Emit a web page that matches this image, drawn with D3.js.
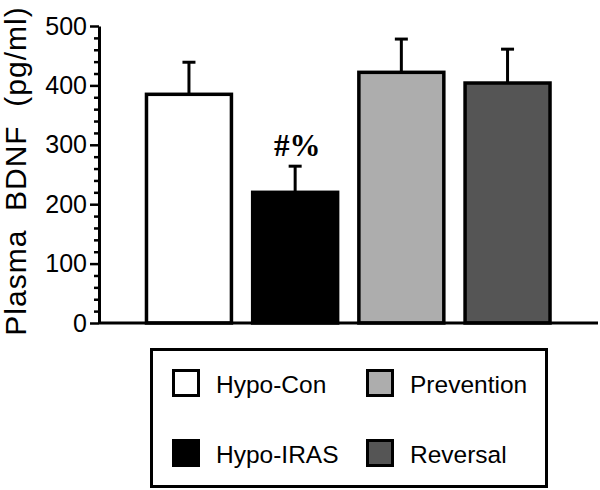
<!DOCTYPE html>
<html>
<head>
<meta charset="utf-8">
<script src="https://cdn.jsdelivr.net/npm/d3@7/dist/d3.min.js"></script>
<style>
  html, body { margin: 0; padding: 0; background: #fff; }
  svg { display: block; }
</style>
</head>
<body>
<svg id="chart" width="600" height="490"></svg>
<script>
const categories = ["Hypo-Con", "Hypo-IRAS", "Prevention", "Reversal"];
const values = [385, 220, 422, 404];
const errors = [54, 44, 56, 57];
const fills = ["#ffffff", "#000000", "#adadad", "#555555"];
const majorTicks = [0, 100, 200, 300, 400, 500];
const minorTicks = [20, 40, 60, 80, 120, 140, 160, 180, 220, 240, 260, 280, 320, 340, 360, 380, 420, 440, 460, 480];
const annotations = ["", "#%", "", ""];
const yTitle = "Plasma  BDNF  (pg/ml)";

const svg = d3.select("#chart");
const font = "Liberation Sans, Arial, Helvetica, sans-serif";

const y = d3.scaleLinear().domain([0, 500]).range([323, 26]);
const x = d3.scaleBand().domain(categories).range([104, 592.5]).paddingInner(0.2).paddingOuter(0.4);

const data = categories.map((c, i) => ({ c, v: values[i], e: errors[i], f: fills[i], a: annotations[i] }));

// bars
svg.append("g").selectAll("rect").data(data).join("rect")
  .attr("x", d => x(d.c))
  .attr("y", d => y(d.v))
  .attr("width", x.bandwidth())
  .attr("height", d => y(0) - y(d.v))
  .attr("fill", d => d.f)
  .attr("stroke", "#000")
  .attr("stroke-width", 3.5);

// error bars
const eg = svg.append("g").attr("stroke", "#000").attr("stroke-width", 3);
eg.selectAll("line.v").data(data).join("line").attr("class", "v")
  .attr("x1", d => x(d.c) + x.bandwidth() / 2)
  .attr("x2", d => x(d.c) + x.bandwidth() / 2)
  .attr("y1", d => y(d.v))
  .attr("y2", d => y(d.v + d.e));
eg.selectAll("line.cap").data(data).join("line").attr("class", "cap")
  .attr("x1", d => x(d.c) + x.bandwidth() / 2 - 6.5)
  .attr("x2", d => x(d.c) + x.bandwidth() / 2 + 6.5)
  .attr("y1", d => y(d.v + d.e))
  .attr("y2", d => y(d.v + d.e));

// annotation
svg.append("g").selectAll("text").data(data.filter(d => d.a)).join("text")
  .attr("x", d => x(d.c) + x.bandwidth() / 2 + 2)
  .attr("y", d => y(d.v + d.e) - 10)
  .attr("text-anchor", "middle")
  .attr("font-family", "Liberation Serif, Times New Roman, serif")
  .attr("font-weight", "bold")
  .attr("font-size", 31)
  .text(d => d.a);

// x axis baseline
svg.append("line")
  .attr("x1", 99).attr("x2", 598)
  .attr("y1", y(0)).attr("y2", y(0))
  .attr("stroke", "#000").attr("stroke-width", 3);

// y axis
const yAxis = svg.append("g").attr("transform", "translate(99,0)")
  .call(d3.axisLeft(y).tickValues(majorTicks).tickSize(9).tickSizeOuter(0).tickPadding(3).tickFormat(d3.format("d")));
yAxis.select(".domain").attr("stroke-width", 3);
yAxis.selectAll(".tick line").attr("stroke-width", 2.5);
yAxis.selectAll(".tick text").attr("font-family", font).attr("font-size", 25).attr("fill", "#000");

const yMinor = svg.append("g").attr("transform", "translate(99,0)")
  .call(d3.axisLeft(y).tickValues(minorTicks).tickSize(5).tickSizeOuter(0).tickFormat(""));
yMinor.select(".domain").remove();
yMinor.selectAll(".tick line").attr("stroke-width", 2.5);

// y title
svg.append("text")
  .attr("transform", "translate(26,171) rotate(-90)")
  .attr("text-anchor", "middle")
  .attr("font-family", font)
  .attr("font-size", 30)
  .attr("letter-spacing", 1)
  .style("white-space", "pre")
  .text(yTitle);

// legend
const lg = svg.append("g");
lg.append("rect")
  .attr("x", 151.5).attr("y", 349.5).attr("width", 395).attr("height", 137)
  .attr("fill", "none").attr("stroke", "#000").attr("stroke-width", 3);
const legendPos = [[173.5, 370.5], [173.5, 440.5], [367.5, 370.5], [367.5, 440.5]];
[0, 1, 2, 3].forEach((idx, k) => {
  const [lx, ly] = legendPos[k];
  lg.append("rect")
    .attr("x", lx).attr("y", ly).attr("width", 25).attr("height", 25)
    .attr("fill", fills[idx]).attr("stroke", "#000").attr("stroke-width", 3);
  lg.append("text")
    .attr("x", lx + 42.5).attr("y", ly + 22.5)
    .attr("font-family", font).attr("font-size", 24.5)
    .text(categories[idx]);
});
</script>
</body>
</html>
